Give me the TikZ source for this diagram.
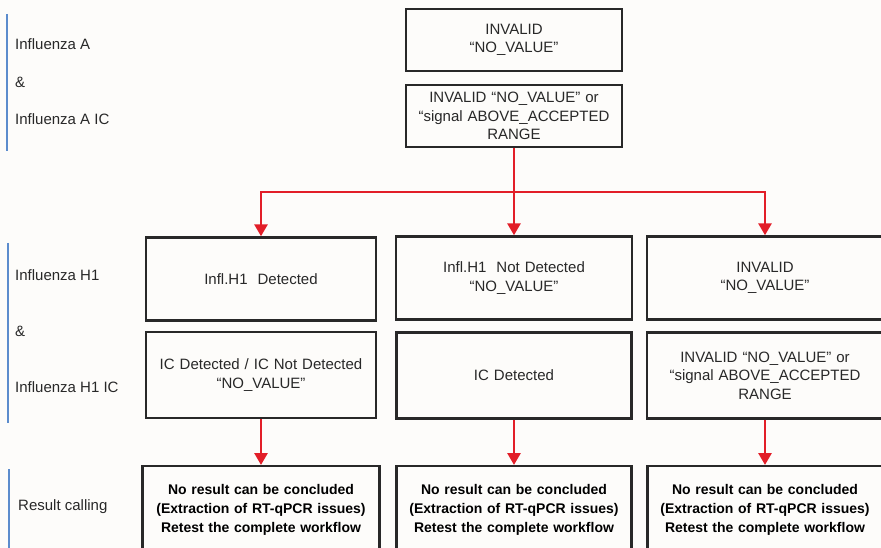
\documentclass[tikz,border=0pt]{standalone}
\usepackage{fontspec}
\setmainfont{Liberation Sans}
\usepackage{xcolor}
\usetikzlibrary{positioning}
\usetikzlibrary{arrows.meta}
\definecolor{boxgray}{RGB}{40,40,40}
\definecolor{flowred}{RGB}{226,30,40}
\definecolor{sideblue}{RGB}{92,140,205}
\definecolor{paper}{RGB}{253,252,250}
\tikzset{
    cellbox/.style={draw=boxgray, line width=2.4pt, align=center, inner xsep=0pt, inner ysep=0pt,
        text width=236pt, minimum height=83pt, font=\fontsize{15}{18.6}\selectfont, text=boxgray},
    resultbox/.style={cellbox, anchor=north, minimum height=87pt, text=black,
        font=\bfseries\fontsize{14}{19}\selectfont},
    flow/.style={draw=flowred, line width=2.8pt, -{Triangle[length=12pt,width=13pt]}},
    sidelabel/.style={anchor=west, inner sep=0pt, font=\fontsize{15}{18}\selectfont, text=boxgray},
    sidebar/.style={draw=sideblue, line width=2.8pt}
}

\begin{document}
\begin{tikzpicture}[x=1pt, y=-1pt]
    % Page
    \useasboundingbox (0,0) rectangle (881,548);
    \fill[paper] (0,0) rectangle (881,548);

    % Side labels
    \draw[sidebar] (7,14) -- (7,151);
    \node[sidelabel] (labA) at (15,44) {Influenza A};
    \node[sidelabel] (ampA) at (15,82) {\&};
    \node[sidelabel] (labAIC) at (15,119) {Influenza A IC};

    \draw[sidebar] (8,243) -- (8,423);
    \node[sidelabel] (labH) at (15,275) {Influenza H1};
    \node[sidelabel] (ampH) at (15,331) {\&};
    \node[sidelabel] (labHIC) at (15,387) {Influenza H1 IC};

    \draw[sidebar] (9,469) -- (9,552);
    \node[sidelabel] (labRes) at (18,507) {Result calling};

    % Influenza A boxes
    \node[cellbox, text width=216pt, minimum height=62pt] (inv1) at (514,40) {INVALID\\“NO\_VALUE”};
    \node[cellbox, text width=216pt, minimum height=62pt] (inv2) at (514,116)
        {INVALID “NO\_VALUE” or\\“signal ABOVE\_ACCEPTED\\RANGE};

    % Influenza H1 boxes
    \node[cellbox, text width=230pt] (h1det) at (261,279) {Infl.H1~~Detected};
    \node[cellbox] (h1nd) at (514,278) {Infl.H1~~Not Detected\\“NO\_VALUE”};
    \node[cellbox] (h1inv) at (765,278) {INVALID\\“NO\_VALUE”};

    % Influenza H1 IC boxes
    \node[cellbox, text width=230pt, minimum height=86pt] (icdet) at (261,375) {IC Detected / IC Not Detected\\“NO\_VALUE”};
    \node[cellbox, text width=235pt, minimum height=86pt] (ic) at (514,375.5) {IC Detected};
    \node[cellbox, minimum height=86pt] (icinv) at (765,375.5)
        {INVALID “NO\_VALUE” or\\“signal ABOVE\_ACCEPTED\\RANGE};

    % Result boxes
    \node[resultbox, text width=237pt] (res1) at (261,465)
        {No result can be concluded\\(Extraction of RT-qPCR issues)\\Retest the complete workflow};
    \node[resultbox, text width=235pt] (res2) at (514,465)
        {No result can be concluded\\(Extraction of RT-qPCR issues)\\Retest the complete workflow};
    \node[resultbox, text width=235pt] (res3) at (765,465)
        {No result can be concluded\\(Extraction of RT-qPCR issues)\\Retest the complete workflow};

    % Arrows
    \coordinate (split) at (514,192);
    \draw[flow] (inv2.south) -- (h1nd.north);
    \draw[flow] (split) -| (h1det.north);
    \draw[flow] (split) -| (h1inv.north);
    \draw[flow] (icdet.south) -- (res1.north);
    \draw[flow] (ic.south) -- (res2.north);
    \draw[flow] (icinv.south) -- (res3.north);
\end{tikzpicture}
\end{document}
